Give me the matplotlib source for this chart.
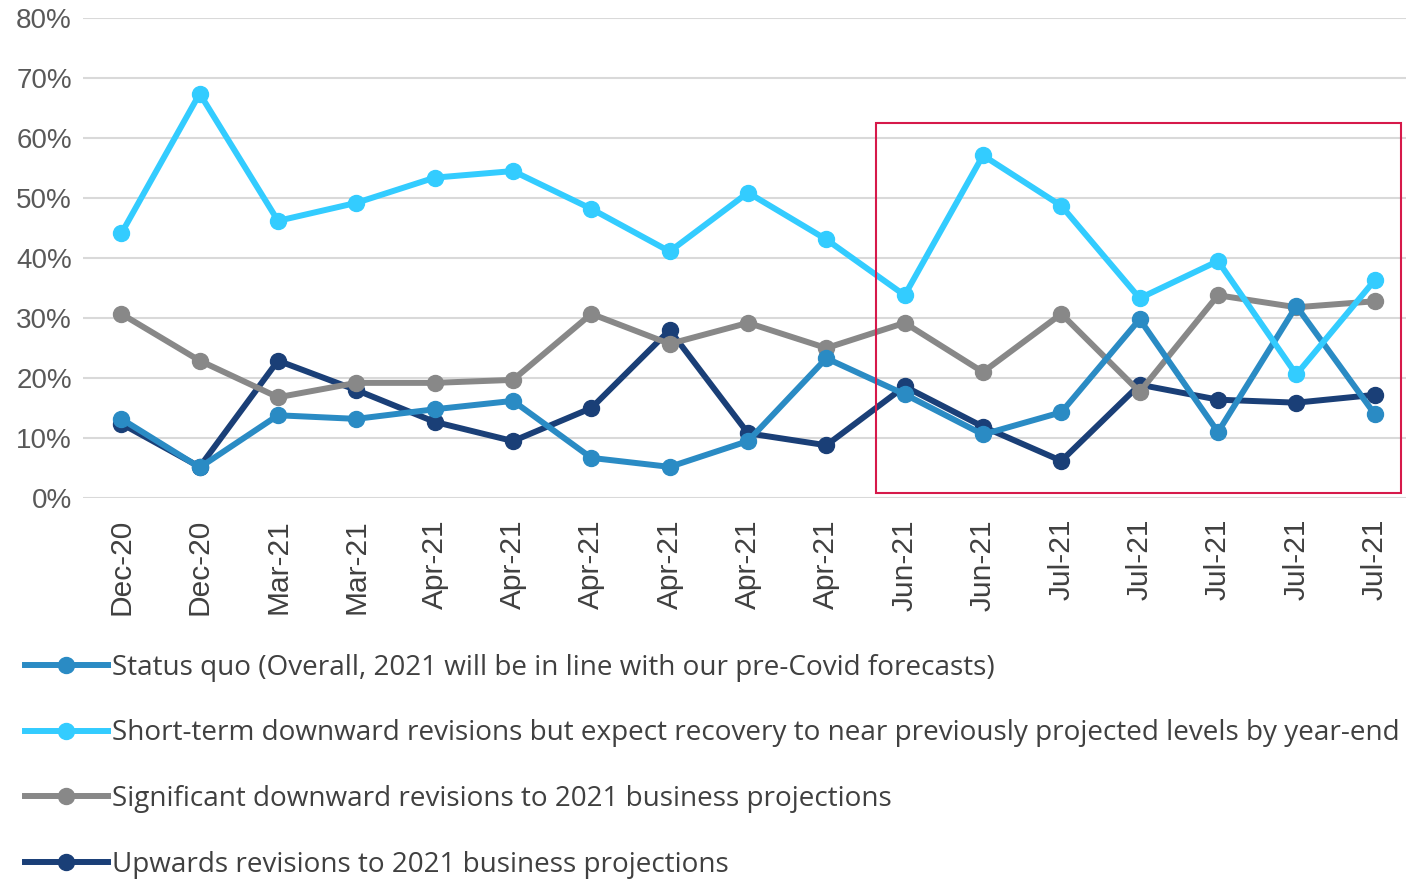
import matplotlib
matplotlib.use("Agg")
import matplotlib.pyplot as plt
from matplotlib.patches import Rectangle
from matplotlib.ticker import PercentFormatter

# categorias do eixo X (datas das pesquisas)
meses = ["Dec-20", "Dec-20", "Mar-21", "Mar-21", "Apr-21", "Apr-21", "Apr-21", "Apr-21",
         "Apr-21", "Apr-21", "Jun-21", "Jun-21", "Jul-21", "Jul-21", "Jul-21", "Jul-21", "Jul-21"]

# valores (%)
status_quo = [13.2, 5.1, 13.8, 13.2, 14.8, 16.2, 6.7, 5.2, 9.5, 23.3, 17.3, 10.6, 14.3, 29.8, 11.0, 32.0, 14.0]
curto_prazo = [44.1, 67.4, 46.2, 49.2, 53.4, 54.5, 48.2, 41.1, 50.9, 43.1, 33.8, 57.1, 48.7, 33.3, 39.5, 20.6, 36.3]
significativa = [30.7, 22.9, 16.8, 19.2, 19.2, 19.7, 30.7, 25.7, 29.2, 25.0, 29.2, 21.0, 30.7, 17.7, 33.8, 31.8, 32.8]
para_cima = [12.4, 5.2, 22.9, 18.0, 12.7, 9.5, 15.0, 28.0, 10.8, 8.8, 18.6, 11.9, 6.2, 18.9, 16.4, 15.9, 17.2]

legendas = [
    "Status quo (Overall, 2021 will be in line with our pre-Covid forecasts)",
    "Short-term downward revisions but expect recovery to near previously projected levels by year-end",
    "Significant downward revisions to 2021 business projections",
    "Upwards revisions to 2021 business projections",
]
cores = ["#2A8BC4", "#33CCFF", "#888888", "#1A3F77"]
ordem = [3, 4, 2, 1]

fig = plt.figure(figsize=(14.06, 8.8), dpi=100)
ax = fig.add_axes([0.059, 0.434, 0.941, 0.5455])

x = list(range(len(meses)))
series = [status_quo, curto_prazo, significativa, para_cima]
for valores, nome, cor, z in zip(series, legendas, cores, ordem):
    ax.plot(x, valores, color=cor, lw=4.3, marker="o", markersize=11.5, label=nome, zorder=z)

ax.set_ylim(0, 80)
ax.set_xlim(-0.49, 16.4)
ax.set_yticks(range(0, 81, 10))
ax.yaxis.set_major_formatter(PercentFormatter(decimals=0))
ax.set_xticks(x)
ax.set_xticklabels(meses, rotation=90, fontsize=21.5, color="#404040", family="Liberation Sans")
ax.tick_params(axis="y", labelsize=20, labelcolor="#595959", length=0, pad=8)
ax.tick_params(axis="x", length=0, pad=15)
for t in ax.get_yticklabels():
    t.set_family("Liberation Sans")
ax.grid(axis="y", color="#D9D9D9", lw=1.5)
ax.set_axisbelow(True)
for s in ax.spines.values():
    s.set_visible(False)

# caixa vermelha destacando os ultimos meses
ax.add_patch(Rectangle((9.64, 0.8), 6.69, 61.7, fill=False, ec="#D6194A", lw=1.5,
                       clip_on=False, zorder=5))

fig.legend(loc="upper left", bbox_to_anchor=(0.0075, 0.273), frameon=False,
           prop={"family": "Open Sans", "size": 20.1}, handlelength=3.0,
           handletextpad=0.15, labelspacing=1.35, borderpad=0, labelcolor="#404040")

fig.savefig("out.png", dpi=100)
